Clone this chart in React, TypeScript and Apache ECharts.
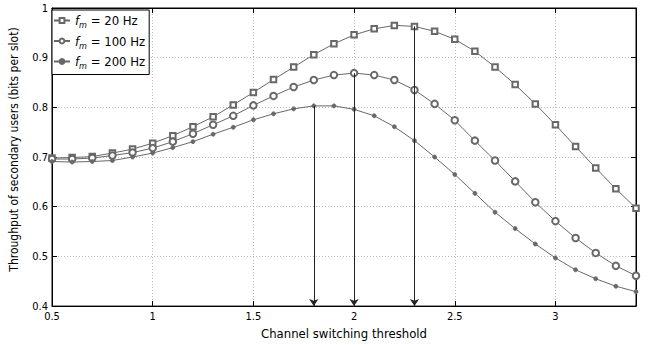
import React, { useEffect, useRef } from "react";
import * as echarts from "echarts";

const thresholds = [0.5, 0.6, 0.7, 0.8, 0.9, 1.0, 1.1, 1.2, 1.3, 1.4, 1.5, 1.6, 1.7, 1.8, 1.9, 2.0, 2.1, 2.2, 2.3, 2.4, 2.5, 2.6, 2.7, 2.8, 2.9, 3.0, 3.1, 3.2, 3.3, 3.4];
const fm20 = [0.698, 0.699, 0.701, 0.708, 0.716, 0.728, 0.743, 0.761, 0.781, 0.805, 0.830, 0.856, 0.881, 0.906, 0.928, 0.946, 0.958, 0.965, 0.963, 0.953, 0.937, 0.913, 0.881, 0.846, 0.807, 0.765, 0.721, 0.678, 0.636, 0.597];
const fm100 = [0.696, 0.696, 0.698, 0.703, 0.709, 0.718, 0.731, 0.747, 0.765, 0.783, 0.804, 0.823, 0.841, 0.855, 0.865, 0.869, 0.865, 0.855, 0.835, 0.807, 0.774, 0.733, 0.693, 0.651, 0.609, 0.571, 0.537, 0.507, 0.481, 0.461];
const fm200 = [0.691, 0.690, 0.691, 0.693, 0.700, 0.708, 0.719, 0.731, 0.746, 0.760, 0.775, 0.787, 0.797, 0.803, 0.803, 0.796, 0.783, 0.761, 0.733, 0.700, 0.665, 0.627, 0.589, 0.556, 0.525, 0.497, 0.473, 0.455, 0.440, 0.429];
const seriesNames = ["20 Hz", "100 Hz", "200 Hz"];
const arrowX = [2.3, 2.0, 1.8];
const arrowTop = [0.963, 0.869, 0.803];

const FONT = "DejaVu Sans Condensed, DejaVu Sans, sans-serif";
const GRAY = "#686868";

export default function App() {
  const ref = useRef<HTMLDivElement>(null);
  useEffect(() => {
    if (!ref.current) return;
    const chart = echarts.init(ref.current, null, { renderer: "svg" });
    const all = [fm20, fm100, fm200];
    const symbols = ["emptyRect", "emptyCircle", "circle"];
    const sizes = [5.5, 6.5, 4];
    const series = all.map((vals, i) => ({
      name: seriesNames[i],
      type: "line",
      xAxisIndex: 0,
      yAxisIndex: 0,
      data: thresholds.map((x, j) => [x, vals[j]]),
      symbol: symbols[i],
      symbolSize: sizes[i],
      showAllSymbol: true,
      lineStyle: { color: GRAY, width: 1 },
      itemStyle: { color: GRAY, borderColor: GRAY, borderWidth: 0.8 },
      emphasis: { disabled: true },
      markLine: {
        silent: true,
        symbol: ["none", "arrow"],
        symbolSize: 7,
        label: { show: false },
        lineStyle: { color: "#222", width: 1, type: "solid" },
        data: [[{ coord: [arrowX[i], arrowTop[i]] }, { coord: [arrowX[i], 0.4] }]],
      },
    }));
    const axisCommon = {
      type: "value",
      axisLine: { show: true, onZero: false, lineStyle: { color: "#000", width: 1 } },
      axisTick: { show: true, inside: true, length: 5, lineStyle: { color: "#000" } },
    };
    chart.setOption({
      animation: false,
      grid: { left: 50, right: 22, top: 8, bottom: 38, show: true, borderColor: "#000", borderWidth: 1 },
      legend: {
        show: true,
        orient: "vertical",
        left: 52,
        top: 10,
        data: seriesNames,
        backgroundColor: "#fff",
        borderColor: "#000",
        borderWidth: 1,
        padding: [4, 4, 4, 1],
        itemGap: 5,
        itemWidth: 16,
        itemHeight: 6,
        formatter: (n: string) => `{i|f}{s|m}{n| = ${n}}`,
        textStyle: {
          fontFamily: FONT,
          color: "#000",
          rich: {
            i: { fontFamily: FONT, fontStyle: "italic", fontSize: 13, lineHeight: 18, verticalAlign: "middle" },
            s: { fontFamily: FONT, fontStyle: "italic", fontSize: 9, lineHeight: 18, verticalAlign: "bottom" },
            n: { fontFamily: FONT, fontSize: 13, lineHeight: 18, verticalAlign: "middle" },
          },
        },
      },
      xAxis: [
        {
          ...axisCommon,
          min: 0.5,
          max: 3.4,
          interval: 0.5,
          position: "bottom",
          name: "Channel switching threshold",
          nameLocation: "middle",
          nameGap: 16,
          nameTextStyle: { fontFamily: FONT, fontSize: 13, color: "#000" },
          axisLabel: { fontFamily: FONT, fontSize: 11, color: "#000", margin: 5, showMaxLabel: false },
          splitLine: { show: true, lineStyle: { color: "#bbb", type: [1, 2], width: 1 } },
        },
        {
          ...axisCommon,
          min: 0.5,
          max: 3.4,
          interval: 0.5,
          position: "top",
          axisLabel: { show: false },
          splitLine: { show: false },
        },
      ],
      yAxis: [
        {
          ...axisCommon,
          min: 0.4,
          max: 1,
          interval: 0.1,
          position: "left",
          name: "Throughput of secondary users (bits per slot)",
          nameLocation: "middle",
          nameGap: 32,
          nameTextStyle: { fontFamily: FONT, fontSize: 12, color: "#000", padding: [0, 0, 0, 15] },
          axisLabel: { fontFamily: FONT, fontSize: 11, color: "#000", margin: 4, formatter: (v: number) => String(Math.round(v * 10) / 10) },
          splitLine: { show: true, lineStyle: { color: "#bbb", type: [1, 2], width: 1 } },
        },
        {
          ...axisCommon,
          min: 0.4,
          max: 1,
          interval: 0.1,
          position: "right",
          axisLabel: { show: false },
          splitLine: { show: false },
        },
      ],
      series,
    });
    return () => chart.dispose();
  }, []);
  return <div ref={ref} style={{ position: "fixed", left: 0, top: 0, width: 658, height: 345, background: "#fff" }} />;
}
